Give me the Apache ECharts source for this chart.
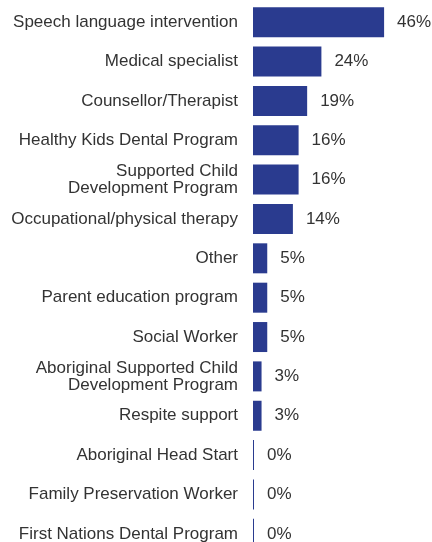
<!DOCTYPE html>
<html>
<head>
<meta charset="utf-8">
<script src="https://cdn.jsdelivr.net/npm/echarts@6/dist/echarts.min.js"></script>
<style>
  html, body { margin: 0; padding: 0; background: #fff; }
  #chart { width: 432px; height: 542px; }
</style>
</head>
<body>
<div id="chart"></div>
<script>
// categories, top to bottom
const categories = [
  'Speech language intervention',
  'Medical specialist',
  'Counsellor/Therapist',
  'Healthy Kids Dental Program',
  'Supported Child\nDevelopment Program',
  'Occupational/physical therapy',
  'Other',
  'Parent education program',
  'Social Worker',
  'Aboriginal Supported Child\nDevelopment Program',
  'Respite support',
  'Aboriginal Head Start',
  'Family Preservation Worker',
  'First Nations Dental Program'
]
const percents = [46, 24, 19, 16, 16, 14, 5, 5, 5, 3, 3, 0, 0, 0]

const barColor = '#2a3b8f'
const textColor = '#333'

const myChart = echarts.init(document.getElementById('chart'))
const option = {
  animation: false,
  grid: {
    left: 253,
    top: 2.5,
    width: 171,
    height: 551,
    outerBoundsMode: 'none'
  },
  xAxis: {
    type: 'value',
    min: 0,
    max: 60,
    show: false
  },
  yAxis: {
    type: 'category',
    inverse: true,
    data: categories,
    axisLine: { show: false },
    axisTick: { show: false },
    axisLabel: {
      color: textColor,
      fontSize: 17,
      fontFamily: 'Liberation Sans, Arial, sans-serif',
      margin: 15,
      lineHeight: 17
    }
  },
  series: [{
    type: 'bar',
    data: percents,
    barWidth: 30,
    barMinHeight: 1,
    itemStyle: { color: barColor },
    label: {
      show: true,
      position: 'right',
      distance: 13,
      formatter: '{c}%',
      color: textColor,
      fontSize: 17,
      fontFamily: 'Liberation Sans, Arial, sans-serif'
    }
  }]
}
myChart.setOption(option)
</script>
</body>
</html>
